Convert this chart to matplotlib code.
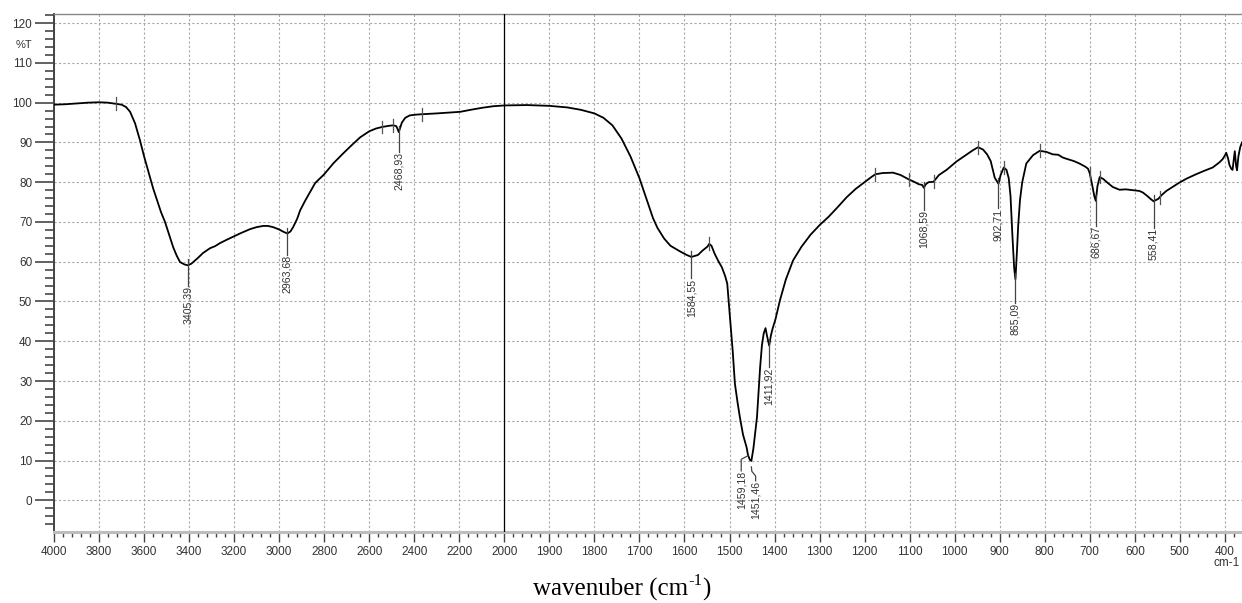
import numpy as np
import matplotlib
matplotlib.use("Agg")
import matplotlib.pyplot as plt
from matplotlib.ticker import FixedLocator, NullFormatter

# ---- spectrum (wavenumber in cm-1, transmittance in %T) ----
wavenumber = [
    4000, 3950, 3900, 3850, 3800, 3760, 3724, 3700, 3680, 3662, 3640, 3618,
    3600, 3580, 3560, 3542, 3525, 3507, 3490, 3471, 3455, 3440, 3420, 3405.39,
    3390, 3382, 3360, 3338, 3320, 3307, 3285, 3262, 3230, 3204, 3170, 3129,
    3100, 3071, 3050, 3027, 3000, 2980, 2963.68, 2950, 2938, 2920, 2907, 2884,
    2860, 2840, 2800, 2760, 2720, 2680, 2640, 2600, 2570, 2542, 2510, 2493,
    2480, 2475, 2468.93, 2462, 2455, 2440, 2420, 2390, 2364, 2330, 2300, 2250,
    2196, 2150, 2100, 2050, 2000, 1950, 1900, 1860, 1830, 1800, 1780, 1760,
    1740, 1720, 1700, 1685, 1670, 1660, 1645, 1631, 1610, 1595, 1584.55, 1570,
    1560, 1549, 1545, 1540, 1533, 1525, 1517, 1510, 1505, 1502, 1499, 1493,
    1488, 1482, 1477, 1470, 1462, 1459.18, 1455, 1451.46, 1447, 1443, 1439,
    1435, 1432, 1428, 1424, 1420, 1417, 1411.92, 1408, 1404, 1398, 1388, 1375,
    1359, 1340, 1320, 1300, 1280, 1260, 1240, 1220, 1200, 1185, 1176, 1160,
    1137, 1120, 1102, 1090, 1080, 1072, 1068.59, 1064, 1058, 1047, 1035, 1018,
    996, 974, 960, 948, 937, 928, 920, 911, 906, 902.71, 898, 891, 885, 880,
    876, 872, 868, 865.09, 862, 859, 855, 850, 841, 826, 811, 796, 782, 770,
    760, 752, 735, 723, 710, 704, 700, 695, 690, 686.67, 683, 678, 670, 660,
    649, 634, 620, 604, 590, 582, 572, 565, 558.41, 548, 540, 530, 515, 501,
    485, 464, 445, 427, 412, 405, 400, 397, 393, 390, 386, 383, 378, 375, 373,
    370, 366, 362,
]
transmittance = [
    99.5, 99.6, 99.8, 100.0, 100.1, 100.0, 99.7, 99.5, 98.9, 97.7, 94.8, 90.5,
    86.5, 82.5, 78.5, 75.4, 72.5, 70.0, 67.0, 63.7, 61.5, 59.9, 59.3, 59.1,
    59.5, 59.9, 61.0, 62.2, 62.9, 63.4, 63.9, 64.7, 65.6, 66.3, 67.2, 68.2,
    68.7, 69.0, 69.0, 68.7, 68.1, 67.5, 67.1, 67.6, 68.7, 70.8, 72.9, 75.4,
    77.8, 79.8, 82.0, 84.7, 87.0, 89.2, 91.3, 92.8, 93.5, 93.9, 94.2, 94.3,
    94.1, 93.5, 92.6, 93.8, 95.0, 96.2, 96.8, 97.0, 97.1, 97.2, 97.3, 97.5,
    97.7, 98.2, 98.7, 99.1, 99.3, 99.4, 99.2, 98.8, 98.2, 97.3, 96.2, 94.3,
    91.0, 86.5, 81.0, 76.0, 71.0, 68.5, 65.8, 64.0, 62.6, 61.7, 61.2, 61.7,
    62.8, 63.8, 64.5, 64.0, 62.0, 60.2, 58.6, 56.5, 54.5, 50.2, 46.0, 37.7,
    29.3, 24.5, 20.9, 16.5, 13.3, 11.5, 10.2, 9.9, 13.0, 17.0, 20.9,
    28.0, 33.5, 39.0, 42.0, 43.3, 41.5, 38.9, 41.5, 43.3, 45.5, 50.3, 55.5,
    60.3, 63.8, 66.8, 69.2, 71.3, 73.7, 76.2, 78.3, 80.0, 81.3, 82.0, 82.3,
    82.4, 81.8, 80.7, 80.1, 79.5, 79.3, 78.6, 79.5, 80.0, 80.1, 81.8, 83.1,
    85.2, 86.9, 88.0, 88.8, 88.2, 87.0, 85.3, 81.1, 80.2, 79.6, 81.8, 83.7,
    83.1, 81.0, 76.5, 67.0, 58.5, 55.6, 62.0, 69.0, 75.5, 80.0, 84.7, 86.8,
    87.9, 87.6, 87.0, 86.9, 86.2, 85.9, 85.3, 84.7, 83.9, 83.4, 82.2, 79.5,
    76.5, 75.3, 79.0, 81.3, 80.8, 79.8, 78.8, 78.1, 78.2, 78.0, 77.8, 77.4,
    76.5, 75.8, 75.2, 75.8, 76.8, 77.8, 78.9, 79.9, 80.9, 82.0, 82.9, 83.7,
    85.0, 85.8, 86.7, 87.4, 86.0, 84.4, 83.4, 83.1, 87.8, 84.0, 83.0, 86.5,
    88.8, 90.0,
]

# ---- labelled peaks ----
peak_wn = [3405.39, 2963.68, 2468.93, 1584.55, 1411.92, 1068.59, 902.71,
           865.09, 686.67, 558.41]
peak_text = ["3405,39", "2963,68", "2468,93", "1584,55", "1411,92", "1068,59",
             "902,71", "865,09", "686,67", "558,41"]
peak_label_top = [53.8, 61.6, 87.6, 55.8, 33.4, 72.9, 73.4, 49.7, 69.1, 68.6]

# the close pair at the main band, with bent leaders
pair_wn = [1459.18, 1451.46]
pair_text = ["1459,18", "1451,46"]
pair_text_wn = [1474, 1442]
pair_label_top = [7.4, 4.9]

# baseline markers on the trace
marker_wn = [3724, 2542, 2493, 2364, 1545, 1176, 1102, 1047, 948, 891, 811,
             700, 678, 545]

# ---- split wavenumber scale: 4000-2000 compressed 2x ----
def fwd(x):
    x = np.asarray(x, dtype=float)
    return np.where(x > 2000, 2000 + (x - 2000) / 2.0, x)


def inv(u):
    u = np.asarray(u, dtype=float)
    return np.where(u > 2000, 2000 + (u - 2000) * 2.0, u)


W, H = 1242, 603
fig = plt.figure(figsize=(W / 100, H / 100), dpi=100)
ax = fig.add_axes([54 / W, 1 - 531.7 / H, (W - 54) / W, (531.7 - 14) / H])
ax.set_xscale("function", functions=(fwd, inv))
ax.set_xlim(4000, 362)
ax.set_ylim(-7.9, 122.3)

tick_font = dict(family="Liberation Sans", size=8.5, color="#333333")

x_major = list(range(4000, 1999, -200)) + list(range(1900, 399, -100))
x_minor = [v for v in range(4000, 2000, -40) if v % 200] + \
          [v for v in range(2000, 360, -20) if v % 100]
ax.xaxis.set_major_locator(FixedLocator(x_major))
ax.xaxis.set_minor_locator(FixedLocator(x_minor))
ax.set_xticklabels([str(v) for v in x_major], fontdict=tick_font)
ax.xaxis.set_minor_formatter(NullFormatter())

y_major = list(range(0, 121, 10))
y_minor = [v for v in range(-6, 123, 2) if v % 10]
ax.yaxis.set_major_locator(FixedLocator(y_major))
ax.yaxis.set_minor_locator(FixedLocator(y_minor))
ax.set_yticklabels([str(v) for v in y_major], fontdict=tick_font)

ax.tick_params(axis="x", which="major", direction="out", length=7.2,
               width=1.0, color="#444444", pad=3)
ax.tick_params(axis="x", which="minor", direction="out", length=3.6,
               width=1.0, color="#444444")
ax.tick_params(axis="y", which="major", direction="out", length=13.7,
               width=1.3, color="#555555", pad=2)
ax.tick_params(axis="y", which="minor", direction="out", length=6.5,
               width=1.3, color="#555555")

ax.spines["right"].set_visible(False)
ax.spines["left"].set_color("#444444")
ax.spines["left"].set_linewidth(1.4)
ax.spines["top"].set_color("#888888")
ax.spines["top"].set_linewidth(1.0)
ax.spines["bottom"].set_color("#bdbdbd")
ax.spines["bottom"].set_linewidth(2.2)

ax.grid(True, which="major", linestyle=(0, (2, 2)), color="#a8a8a8",
        linewidth=0.8)
ax.set_axisbelow(True)

# divider between the two scale regions
ax.axvline(2000, color="black", linewidth=0.9, zorder=3)

# trace
ax.plot(wavenumber, transmittance, color="black", linewidth=1.3, zorder=4,
        solid_joinstyle="round")

wn_asc = wavenumber[::-1]
tr_asc = transmittance[::-1]

# baseline markers
for w in marker_wn:
    t = np.interp(w, wn_asc, tr_asc)
    ax.plot([w, w], [t - 1.6, t + 1.6], color="#555555", linewidth=0.9,
            zorder=5)

label_font = dict(family="Liberation Sans", size=7.6, color="#333333")

# peak labels with straight leaders
for w, txt, top in zip(peak_wn, peak_text, peak_label_top):
    t = np.interp(w, wn_asc, tr_asc)
    ax.plot([w, w], [t + 1.5, top], color="#444444", linewidth=0.9, zorder=5)
    ax.text(w, top, txt, rotation=90, ha="center", va="top", fontdict=label_font,
            zorder=6)

# paired labels under the main band
t0 = np.interp(pair_wn[0], wn_asc, tr_asc)
ax.plot([pair_wn[0], pair_text_wn[0], pair_text_wn[0]],
        [t0 - 0.3, t0 - 1.2, pair_label_top[0]],
        color="#444444", linewidth=0.9, zorder=5)
t1 = np.interp(pair_wn[1], wn_asc, tr_asc)
ax.plot([pair_wn[1], pair_wn[1] - 1, pair_text_wn[1], pair_text_wn[1]],
        [t1 - 1.5, t1 - 2.6, t1 - 3.8, pair_label_top[1]],
        color="#444444", linewidth=0.9, zorder=5)
for w, txt, top in zip(pair_text_wn, pair_text, pair_label_top):
    ax.text(w, top, txt, rotation=90, ha="center", va="top", fontdict=label_font,
            zorder=6)

# axis captions
fig.text(24 / W, 1 - 45 / H, "%T", ha="center", va="center",
         family="Liberation Sans", size=8, color="#333333")
fig.text(1240 / W, 1 - 563 / H, "cm-1", ha="right", va="center",
         family="Liberation Sans", size=8.5, color="#333333")

# x caption with a raised "-1", assembled from three pieces
renderer = fig.canvas.get_renderer()
serif = dict(family="Liberation Serif", color="black")
parts = [("wavenuber (cm", 18, 0.0), ("-1", 12, 11.0), (")", 18, 0.0)]
widths = []
for s, size, _ in parts:
    probe = fig.text(0, 0, s, size=size, **serif)
    widths.append(probe.get_window_extent(renderer).width)
    probe.remove()
x_px = 622 - sum(widths) / 2.0
base_px = H - 596
for (s, size, raise_px), w in zip(parts, widths):
    fig.text(x_px / W, (base_px + raise_px) / H, s, size=size, ha="left",
             va="baseline", **serif)
    x_px += w

fig.savefig("out.png", dpi=100)
